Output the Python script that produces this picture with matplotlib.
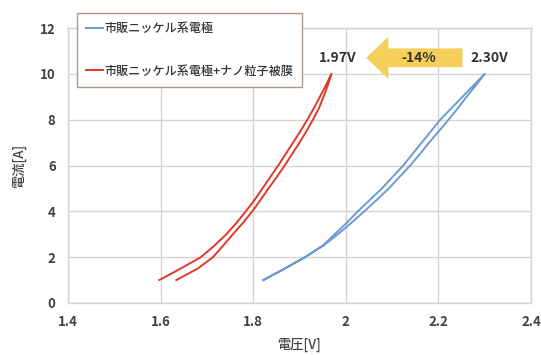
import numpy as np
import matplotlib
matplotlib.use("Agg")
import matplotlib.pyplot as plt
from matplotlib.patches import FancyArrow

plt.rcParams['font.family'] = ['Noto Sans CJK JP', 'DejaVu Sans']

# Current steps [A] shared by every sweep
current = [1.0, 1.5, 2.0, 2.5, 3.0, 3.5, 4.0, 4.5, 5.0, 5.5,
           6.0, 6.5, 7.0, 7.5, 8.0, 8.5, 9.0, 9.5, 10.0]

# Commercial nickel electrode: voltage [V] on the upward and downward sweep
blue_up = [1.822, 1.868, 1.912, 1.950, 1.976, 2.002, 2.026, 2.052, 2.078, 2.101,
           2.124, 2.144, 2.164, 2.184, 2.204, 2.228, 2.252, 2.276, 2.300]
blue_down = [1.822, 1.868, 1.912, 1.951, 1.983, 2.012, 2.040, 2.067, 2.093, 2.116,
             2.139, 2.160, 2.180, 2.201, 2.222, 2.242, 2.261, 2.281, 2.300]

# Nickel electrode with nanoparticle coating
red_up = [1.597, 1.643, 1.687, 1.716, 1.742, 1.764, 1.784, 1.803, 1.820, 1.837,
          1.854, 1.870, 1.886, 1.902, 1.917, 1.931, 1.944, 1.957, 1.969]
red_down = [1.634, 1.680, 1.713, 1.735, 1.756, 1.778, 1.798, 1.816, 1.833, 1.851,
            1.868, 1.884, 1.900, 1.915, 1.929, 1.942, 1.952, 1.961, 1.969]

series_labels = ['市販ニッケル系電極', '市販ニッケル系電極+ナノ粒子被膜']
x_ticks = [1.4, 1.6, 1.8, 2.0, 2.2, 2.4]
x_tick_labels = ['1.4', '1.6', '1.8', '2', '2.2', '2.4']
y_ticks = [0, 2, 4, 6, 8, 10, 12]

v_before = 2.30
v_after = 1.97
reduction = (v_after - v_before) / v_before * 100

blue = '#6C9BD2'
red = '#E0392B'
text_col = '#404040'
grid_col = '#D8D3CF'

fig = plt.figure(figsize=(5.41, 3.55), dpi=100)
ax = fig.add_axes([0.1257, 0.1465, 0.8558, 0.7746])

# Each loop: up sweep followed by the return sweep
ax.plot(blue_up + blue_down[::-1], current + current[::-1],
        color=blue, lw=1.4, label=series_labels[0], zorder=3)
ax.plot(red_up + red_down[::-1], current + current[::-1],
        color=red, lw=1.4, label=series_labels[1], zorder=3)

ax.set_xlim(1.4, 2.4)
ax.set_ylim(0, 12)
ax.set_xticks(x_ticks)
ax.set_xticklabels(x_tick_labels)
ax.set_yticks(y_ticks)
ax.grid(True, color=grid_col, lw=1.0)
ax.set_axisbelow(True)
for s in ax.spines.values():
    s.set_color(grid_col)
    s.set_linewidth(1.0)
ax.tick_params(length=0, labelsize=9.5, colors=text_col, pad=9)
for lab in ax.get_xticklabels() + ax.get_yticklabels():
    lab.set_fontweight('bold')

ax.set_xlabel('電圧[V]', fontsize=9.5, color=text_col, labelpad=6, fontweight='medium')
ax.set_ylabel('電流[A]', fontsize=9.5, color=text_col, labelpad=10, fontweight='medium')

# Arrow showing the voltage drop
y_arrow = 10.7
ax.add_patch(FancyArrow(2.252, y_arrow, -(2.252 - 2.044), 0,
                        width=0.82, head_width=1.84, head_length=0.048,
                        length_includes_head=True, color='#F5CF5A', lw=0, zorder=4))
ax.text(2.157, y_arrow, f'{reduction:.0f}%', ha='center', va='center',
        fontsize=10, fontweight='bold', color='#333333', zorder=5)
ax.text(1.982, y_arrow, f'{v_after:.2f}V', ha='center', va='center',
        fontsize=10, fontweight='bold', color='#333333', zorder=5)
ax.text(2.31, y_arrow, f'{v_before:.2f}V', ha='center', va='center',
        fontsize=10, fontweight='bold', color='#333333', zorder=5)

leg = ax.legend(loc='upper left', bbox_to_anchor=(0.019, 1.055), borderaxespad=0,
                fontsize=8.7, frameon=True, fancybox=False, edgecolor='#A8998C',
                framealpha=1, labelspacing=2.45, handlelength=1.4, handletextpad=0.1,
                borderpad=0.75)
leg.get_frame().set_linewidth(1.0)
for t in leg.get_texts():
    t.set_color('#333333')
    t.set_fontweight('medium')
leg.set_zorder(6)

fig.savefig('out.png', dpi=100)
